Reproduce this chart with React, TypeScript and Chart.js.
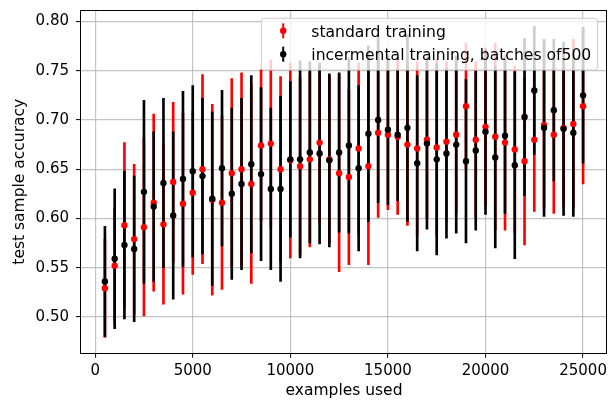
import React, { useEffect, useRef } from "react";
import { Chart, registerables } from "chart.js";

Chart.register(...registerables);

// Number of training examples seen at each evaluation
const examplesUsed = [
  500, 1000, 1500, 2000, 2500, 3000, 3500, 4000, 4500, 5000,
  5500, 6000, 6500, 7000, 7500, 8000, 8500, 9000, 9500, 10000,
  10500, 11000, 11500, 12000, 12500, 13000, 13500, 14000, 14500, 15000,
  15500, 16000, 16500, 17000, 17500, 18000, 18500, 19000, 19500, 20000,
  20500, 21000, 21500, 22000, 22500, 23000, 23500, 24000, 24500, 25000,
];

// Standard training: mean test accuracy and its spread
const standardMean = [
  0.529, 0.552, 0.593, 0.579, 0.591, 0.616, 0.594, 0.637, 0.615, 0.626,
  0.650, 0.619, 0.616, 0.646, 0.650, 0.635, 0.674, 0.676, 0.650, 0.659,
  0.653, 0.660, 0.677, 0.660, 0.646, 0.642, 0.671, 0.653, 0.687, 0.685,
  0.683, 0.675, 0.671, 0.680, 0.672, 0.678, 0.685, 0.714, 0.680, 0.693,
  0.683, 0.677, 0.670, 0.658, 0.680, 0.695, 0.685, 0.692, 0.696, 0.714,
];
const standardErr = [
  0.050, 0.058, 0.084, 0.076, 0.090, 0.090, 0.081, 0.081, 0.092, 0.083,
  0.096, 0.097, 0.088, 0.096, 0.098, 0.101, 0.077, 0.085, 0.094, 0.099,
  0.090, 0.089, 0.080, 0.085, 0.100, 0.089, 0.087, 0.100, 0.086, 0.076,
  0.079, 0.082, 0.088, 0.080, 0.090, 0.081, 0.080, 0.064, 0.079, 0.080,
  0.095, 0.089, 0.085, 0.085, 0.073, 0.085, 0.080, 0.080, 0.086, 0.079,
];

// Incremental training in batches of 500: mean test accuracy and its spread
const incrementalMean = [
  0.536, 0.559, 0.573, 0.569, 0.627, 0.612, 0.636, 0.603, 0.640, 0.648,
  0.643, 0.620, 0.651, 0.625, 0.635, 0.655, 0.645, 0.630, 0.630, 0.660,
  0.660, 0.667, 0.666, 0.659, 0.667, 0.674, 0.651, 0.686, 0.700, 0.690,
  0.685, 0.692, 0.656, 0.676, 0.660, 0.666, 0.675, 0.658, 0.669, 0.688,
  0.662, 0.684, 0.654, 0.703, 0.730, 0.692, 0.710, 0.691, 0.687, 0.725,
];
const incrementalErr = [
  0.056, 0.071, 0.075, 0.074, 0.093, 0.076, 0.086, 0.085, 0.089, 0.087,
  0.079, 0.088, 0.079, 0.087, 0.087, 0.090, 0.088, 0.082, 0.094, 0.079,
  0.100, 0.092, 0.092, 0.088, 0.081, 0.089, 0.084, 0.089, 0.084, 0.076,
  0.067, 0.095, 0.089, 0.087, 0.097, 0.086, 0.090, 0.083, 0.081, 0.084,
  0.092, 0.079, 0.095, 0.080, 0.065, 0.090, 0.072, 0.088, 0.085, 0.069,
];

const xTickValues = [0, 5000, 10000, 15000, 20000, 25000];
const yTickValues = [0.5, 0.55, 0.6, 0.65, 0.7, 0.75, 0.8];

const seriesLabels = [
  "standard training",
  "incermental training, batches of500",
];
const seriesColors = ["#ff0000", "#000000"];

const FONT = "'DejaVu Sans', sans-serif";

const points = (means: number[]) =>
  examplesUsed.map((x, i) => ({ x, y: means[i] }));
const ranges = (means: number[], errs: number[]) =>
  examplesUsed.map((x, i) => ({ x, y: [means[i] - errs[i], means[i] + errs[i]] }));

// Frame around the plotting area
const framePlugin = {
  id: "frame",
  afterDatasetsDraw(chart: any) {
    const { ctx, chartArea } = chart;
    const l = Math.round(chartArea.left) - 0.5;
    const t = Math.round(chartArea.top) - 0.5;
    const r = Math.round(chartArea.right) - 0.5;
    const b = Math.round(chartArea.bottom) + 0.5;
    ctx.save();
    ctx.strokeStyle = "#000";
    ctx.lineWidth = 1;
    ctx.strokeRect(l, t, r - l, b - t);
    ctx.restore();
  },
};

// Legend box in the upper right corner with errorbar handles
const legendPlugin = {
  id: "errLegend",
  afterDraw(chart: any) {
    const { ctx, chartArea } = chart;
    const fs = 15.6;
    ctx.save();
    ctx.font = `${fs}px ${FONT}`;
    const textW = Math.max(...seriesLabels.map((s) => ctx.measureText(s).width));
    const pad = 0.4 * fs;
    const handleLen = 2.0 * fs;
    const handleGap = 0.8 * fs;
    const rowH = 23.4;
    const w = pad * 2 + handleLen + handleGap + textW;
    const h = 51.7;
    const x0 = chartArea.right - 9.5 - w;
    const y0 = chartArea.top + 7.6;
    const rad = 3;
    ctx.beginPath();
    ctx.moveTo(x0 + rad, y0);
    ctx.lineTo(x0 + w - rad, y0);
    ctx.arcTo(x0 + w, y0, x0 + w, y0 + rad, rad);
    ctx.lineTo(x0 + w, y0 + h - rad);
    ctx.arcTo(x0 + w, y0 + h, x0 + w - rad, y0 + h, rad);
    ctx.lineTo(x0 + rad, y0 + h);
    ctx.arcTo(x0, y0 + h, x0, y0 + h - rad, rad);
    ctx.lineTo(x0, y0 + rad);
    ctx.arcTo(x0, y0, x0 + rad, y0, rad);
    ctx.closePath();
    ctx.fillStyle = "rgba(255,255,255,0.8)";
    ctx.fill();
    ctx.strokeStyle = "#cccccc";
    ctx.lineWidth = 1;
    ctx.stroke();

    seriesLabels.forEach((label, i) => {
      const cy = y0 + 12.5 + rowH * i;
      const hx = x0 + pad + handleLen / 2;
      ctx.strokeStyle = seriesColors[i];
      ctx.lineWidth = 2;
      ctx.beginPath();
      ctx.moveTo(hx, cy - 7.5);
      ctx.lineTo(hx, cy + 7.5);
      ctx.stroke();
      ctx.fillStyle = seriesColors[i];
      ctx.beginPath();
      ctx.arc(hx, cy, 3.2, 0, Math.PI * 2);
      ctx.fill();
      ctx.fillStyle = "#000";
      ctx.textBaseline = "alphabetic";
      ctx.textAlign = "left";
      ctx.fillText(label, x0 + pad + handleLen + handleGap, cy + 5.9);
    });
    ctx.restore();
  },
};

export default function App() {
  const canvasRef = useRef<HTMLCanvasElement | null>(null);

  useEffect(() => {
    const canvas = canvasRef.current;
    if (!canvas) return;

    const barCommon = {
      type: "bar" as const,
      barThickness: 2,
      grouped: false,
      borderWidth: 0,
    };
    const pointCommon = {
      type: "scatter" as const,
      pointRadius: 3.2,
      pointBorderWidth: 0,
      showLine: false,
    };

    const chart = new Chart(canvas, {
      type: "scatter",
      data: {
        datasets: [
          {
            ...pointCommon,
            label: seriesLabels[1],
            data: points(incrementalMean),
            backgroundColor: seriesColors[1],
            order: 0,
          },
          {
            ...pointCommon,
            label: seriesLabels[0],
            data: points(standardMean),
            backgroundColor: seriesColors[0],
            order: 1,
          },
          {
            ...barCommon,
            label: seriesLabels[1] + " err",
            data: ranges(incrementalMean, incrementalErr) as any,
            backgroundColor: seriesColors[1],
            order: 2,
          },
          {
            ...barCommon,
            label: seriesLabels[0] + " err",
            data: ranges(standardMean, standardErr) as any,
            backgroundColor: seriesColors[0],
            order: 3,
          },
        ] as any,
      },
      options: {
        responsive: false,
        animation: false,
        events: [],
        layout: { padding: { top: 10.7, right: 1.5, left: 0, bottom: 0 } },
        plugins: {
          legend: { display: false },
          tooltip: { enabled: false },
        },
        scales: {
          x: {
            type: "linear",
            min: -725,
            max: 26225,
            offset: false,
            afterFit: (s: any) => {
              s.height = 49.3;
              s.paddingLeft = 0;
              s.paddingRight = 0;
            },
            afterBuildTicks: (s: any) => {
              s.ticks = xTickValues.map((value) => ({ value }));
            },
            ticks: {
              color: "#000",
              padding: 4,
              font: { family: FONT, size: 15 },
              callback: (v: any) => String(v),
              maxRotation: 0,
            },
            grid: {
              color: "rgba(176,176,176,0.75)",
              lineWidth: 1.2,
              tickColor: "#000",
              tickLength: 5,
              tickWidth: 1,
              offset: false,
            },
            border: { display: false },
            title: {
              display: true,
              text: "examples used",
              color: "#000",
              font: { family: FONT, size: 15.5 },
              padding: { top: 0, bottom: 2 },
            },
          },
          y: {
            type: "linear",
            min: 0.4636,
            max: 0.811,
            afterFit: (s: any) => {
              s.width = 81;
              s.paddingTop = 0;
              s.paddingBottom = 0;
            },
            afterBuildTicks: (s: any) => {
              s.ticks = yTickValues.map((value) => ({ value }));
            },
            ticks: {
              color: "#000",
              padding: 7,
              font: { family: FONT, size: 15 },
              callback: (v: any) => Number(v).toFixed(2),
            },
            grid: {
              color: "rgba(176,176,176,0.75)",
              lineWidth: 1.2,
              tickColor: "#000",
              tickLength: 5,
              tickWidth: 1,
            },
            border: { display: false },
            title: {
              display: true,
              text: "test sample accuracy",
              color: "#000",
              font: { family: FONT, size: 15.5 },
              padding: { top: 11, bottom: 0 },
            },
          },
        },
      },
      plugins: [framePlugin, legendPlugin],
    });

    return () => chart.destroy();
  }, []);

  return (
    <div style={{ position: "fixed", left: 0, top: 0, width: 611, height: 402, background: "#fff" }}>
      <canvas ref={canvasRef} width={611} height={402} style={{ display: "block" }} />
    </div>
  );
}
